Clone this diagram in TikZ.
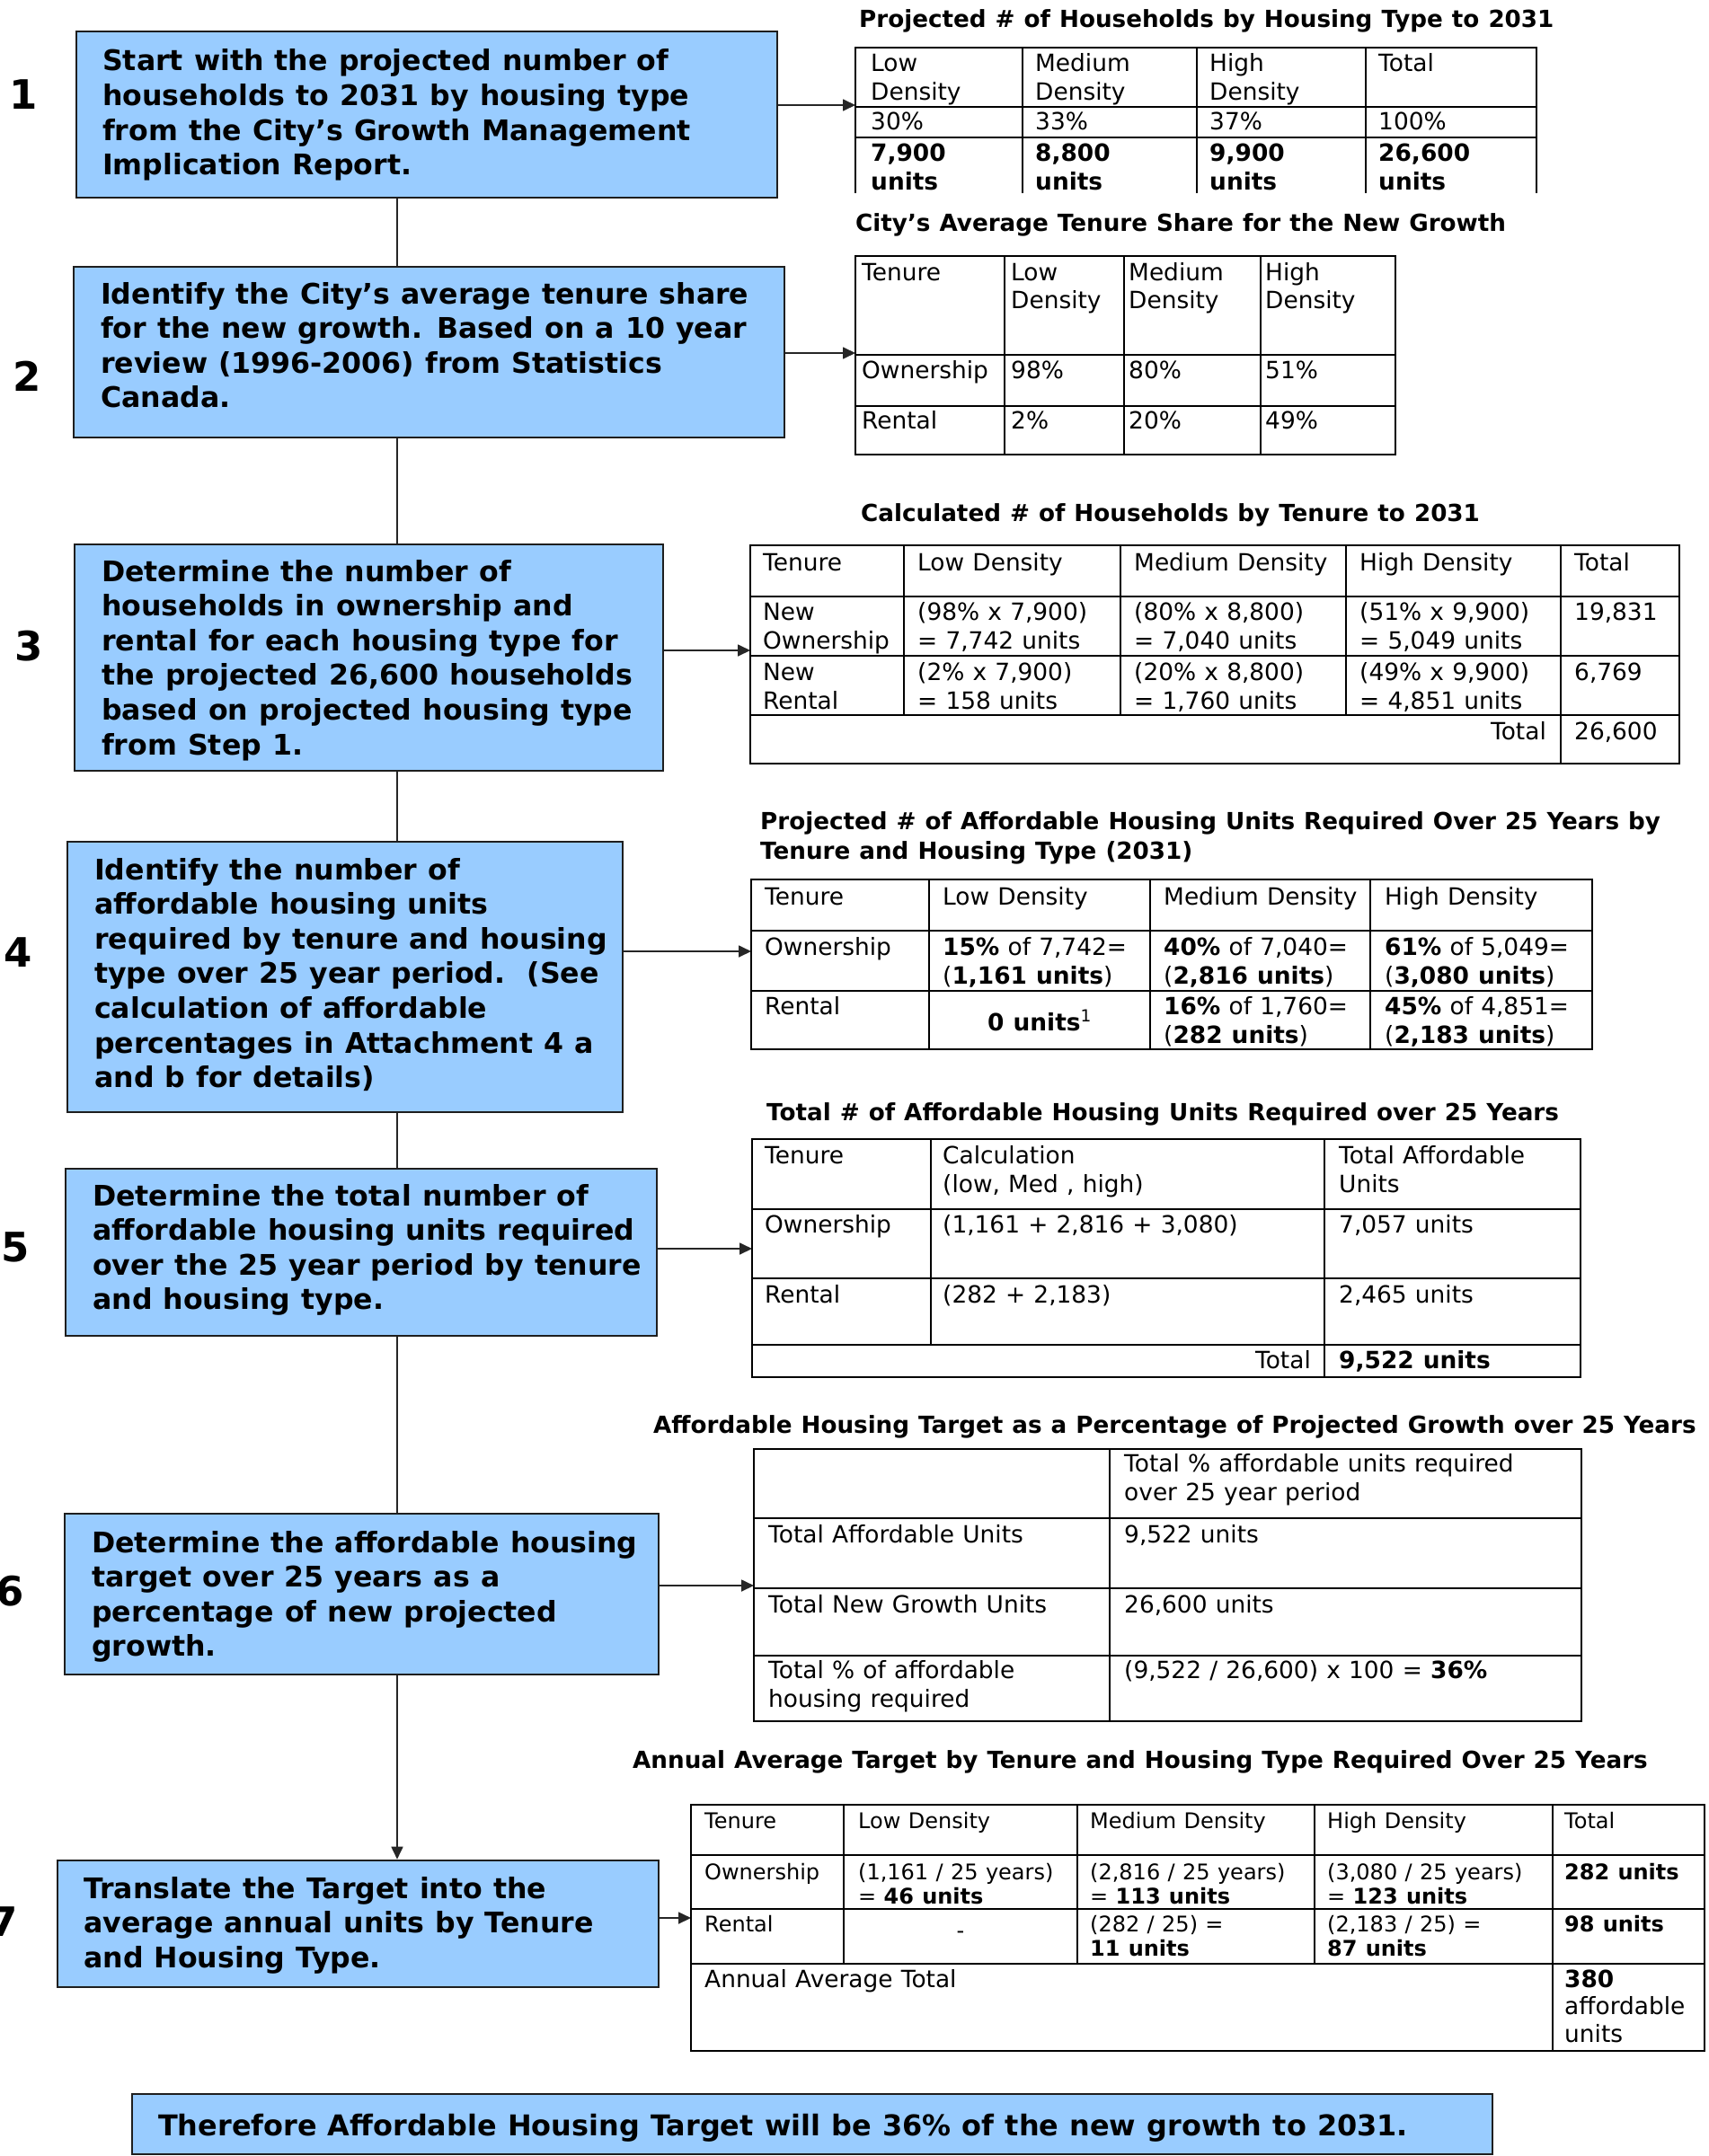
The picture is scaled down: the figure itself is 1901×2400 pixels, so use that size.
\documentclass[tikz,border=0pt]{standalone}
\usepackage{fontspec}
\setmainfont{DejaVu Sans}[WordSpace={1.1,1,1}]
\usetikzlibrary{arrows.meta}
\definecolor{boxblue}{RGB}{153,204,255}
\definecolor{boxline}{RGB}{30,30,30}
\newcommand\boxfont{\fontsize{31.6}{38.6}\selectfont\bfseries}
\newcommand\finalfont{\fontsize{31.9}{38.6}\selectfont\bfseries}
\newcommand\numfont{\fontsize{45}{45}\selectfont\bfseries}
\newcommand\capfont{\fontsize{26.2}{33}\selectfont\bfseries}
\newcommand\cellfont{\fontsize{26.4}{32}\selectfont}
\newcommand\smallcellfont{\fontsize{24}{27}\selectfont}
\newcommand\ml[1]{\vtop{\halign{##\hfil\cr#1\crcr}}}
\begin{document}
\begin{tikzpicture}[x=1pt,y=-1pt,
  stepbox/.style={draw=boxline, fill=boxblue, line width=2.6pt, inner sep=0pt},
  boxtxt/.style={font=\boxfont, anchor=base west, inner sep=0pt},
  stepnum/.style={font=\numfont, anchor=base, inner sep=0pt},
  captxt/.style={font=\capfont, anchor=base west, inner sep=0pt},
  cell/.style={font=\cellfont, anchor=base west, inner sep=0pt},
  scell/.style={font=\smallcellfont, anchor=base west, inner sep=0pt},
  tline/.style={line width=2.2pt, line cap=rect},
  conn/.style={line width=1.7pt, draw=black!85},
  arr/.style={conn, -{Triangle[length=14pt,width=13pt]}}]
\useasboundingbox (0,0) rectangle (1901,2400);
\fill[white] (0,0) rectangle (1901,2400);

% ---------- step boxes ----------
\node[stepbox, minimum width=780pt, minimum height=185pt] (b1) at (475,127.5) {};
\node[stepbox, minimum width=791pt, minimum height=190pt] (b2) at (477.5,392) {};
\node[stepbox, minimum width=655pt, minimum height=252pt] (b3) at (410.5,732) {};
\node[stepbox, minimum width=618pt, minimum height=301pt] (b4) at (384,1087.5) {};
\node[stepbox, minimum width=658pt, minimum height=186pt] (b5) at (402,1394) {};
\node[stepbox, minimum width=661pt, minimum height=179pt] (b6) at (402.5,1774.5) {};
\node[stepbox, minimum width=669pt, minimum height=141pt] (b7) at (398.5,2141.5) {};
\node[stepbox, minimum width=1514pt, minimum height=67pt] (bf) at (904,2364.5) {};

\node[boxtxt] (bt1) at (114,79) {\ml{Start with the projected number of\cr households to 2031 by housing type\cr from the City’s Growth Management\cr Implication Report.}};
\node[boxtxt] (bt2) at (112,338) {\ml{Identify the City’s average tenure share\cr for the new growth. Based on a 10 year\cr review (1996-2006) from Statistics\cr Canada.}};
\node[boxtxt] (bt3) at (113,647) {\ml{Determine the number of\cr households in ownership and\cr rental for each housing type for\cr the projected 26,600 households\cr based on projected housing type\cr from Step 1.}};
\node[boxtxt] (bt4) at (105,979) {\ml{Identify the number of\cr affordable housing units\cr required by tenure and housing\cr type over 25 year period.\ \ (See\cr calculation of affordable\cr percentages in Attachment 4 a\cr and b for details)}};
\node[boxtxt] (bt5) at (103,1342) {\ml{Determine the total number of\cr affordable housing units required\cr over the 25 year period by tenure\cr and housing type.}};
\node[boxtxt] (bt6) at (102,1728) {\ml{Determine the affordable housing\cr target over 25 years as a\cr percentage of new projected\cr growth.}};
\node[boxtxt] (bt7) at (93,2113) {\ml{Translate the Target into the\cr average annual units by Tenure\cr and Housing Type.}};
\node[boxtxt, font=\finalfont] (btf) at (176,2377) {Therefore Affordable Housing Target will be 36\% of the new growth to 2031.};

% ---------- step numbers ----------
\node[stepnum] (n1) at (26,122) {1};
\node[stepnum] (n2) at (30,435) {2};
\node[stepnum] (n3) at (32,735) {3};
\node[stepnum] (n4) at (20,1076) {4};
\node[stepnum] (n5) at (17,1404) {5};
\node[stepnum] (n6) at (11,1787) {6};
\node[stepnum] (n7) at (4,2155) {7};

% ---------- spine connectors ----------
\coordinate (spine) at (442,0);
\draw[conn] (b1.south -| spine) -- (b2.north -| spine);
\draw[conn] (b2.south -| spine) -- (b3.north -| spine);
\draw[conn] (b3.south -| spine) -- (b4.north -| spine);
\draw[conn] (b4.south -| spine) -- (b5.north -| spine);
\draw[conn] (b5.south -| spine) -- (b6.north -| spine);
\draw[arr] (b6.south -| spine) -- (b7.north -| spine);

% ---------- arrows to tables ----------
\coordinate (e1) at (952,117);
\coordinate (e2) at (952,393);
\coordinate (e3) at (835,724);
\coordinate (e4) at (836,1059);
\coordinate (e5) at (837,1390);
\coordinate (e6) at (839,1765);
\coordinate (e7) at (769,2135);
\draw[arr] (b1.east |- e1) -- (e1);
\draw[arr] (b2.east |- e2) -- (e2);
\draw[arr] (b3.east |- e3) -- (e3);
\draw[arr] (b4.east |- e4) -- (e4);
\draw[arr] (b5.east |- e5) -- (e5);
\draw[arr] (b6.east |- e6) -- (e6);
\draw[arr] (b7.east |- e7) -- (e7);

% ---------- Table 1 ----------
\node[captxt] (cap1) at (956,31) {Projected \# of Households by Housing Type to 2031};
\draw[tline] (952,214) -- (952,53) -- (1710,53) -- (1710,214);
\foreach \x in {1138,1332,1520} \draw[tline] (\x,53) -- (\x,214);
\foreach \y in {119,153} \draw[tline] (952,\y) -- (1710,\y);
\node[cell] (t1a) at (969,80) {\ml{Low\cr Density}};
\node[cell] (t1b) at (1152,80) {\ml{Medium\cr Density}};
\node[cell] (t1c) at (1346,80) {\ml{High\cr Density}};
\node[cell] (t1d) at (1534,80) {Total};
\node[cell] (t1e) at (969,145) {30\%};
\node[cell] (t1f) at (1152,145) {33\%};
\node[cell] (t1g) at (1346,145) {37\%};
\node[cell] (t1h) at (1534,145) {100\%};
\node[cell] (t1i) at (969,180) {\bfseries\ml{7,900\cr units}};
\node[cell] (t1j) at (1152,180) {\bfseries\ml{8,800\cr units}};
\node[cell] (t1k) at (1346,180) {\bfseries\ml{9,900\cr units}};
\node[cell] (t1l) at (1534,180) {\bfseries\ml{26,600\cr units}};

% ---------- Table 2 ----------
\node[captxt] (cap2) at (952,258) {City’s Average Tenure Share for the New Growth};
\draw[tline] (952,285) rectangle (1553,506);
\foreach \x in {1118,1251,1403} \draw[tline] (\x,285) -- (\x,506);
\foreach \y in {395,452} \draw[tline] (952,\y) -- (1553,\y);
\node[cell] (t2a) at (959,312) {Tenure};
\node[cell] (t2b) at (1125,312) {\ml{Low\cr Density}};
\node[cell] (t2c) at (1256,312) {\ml{Medium\cr Density}};
\node[cell] (t2d) at (1408,312) {\ml{High\cr Density}};
\node[cell] (t2e) at (959,421) {Ownership};
\node[cell] (t2f) at (1125,421) {98\%};
\node[cell] (t2g) at (1256,421) {80\%};
\node[cell] (t2h) at (1408,421) {51\%};
\node[cell] (t2i) at (959,477) {Rental};
\node[cell] (t2j) at (1125,477) {2\%};
\node[cell] (t2k) at (1256,477) {20\%};
\node[cell] (t2l) at (1408,477) {49\%};

% ---------- Table 3 ----------
\node[captxt] (cap3) at (958,580) {Calculated \# of Households by Tenure to 2031};
\draw[tline] (835,607) rectangle (1869,850);
\foreach \x in {1006,1247,1498} \draw[tline] (\x,607) -- (\x,796);
\draw[tline] (1737,607) -- (1737,850);
\foreach \y in {664,730,796} \draw[tline] (835,\y) -- (1869,\y);
\node[cell] (t3a) at (849,635) {Tenure};
\node[cell] (t3b) at (1021,635) {Low Density};
\node[cell] (t3c) at (1262,635) {Medium Density};
\node[cell] (t3d) at (1513,635) {High Density};
\node[cell] (t3e) at (1752,635) {Total};
\node[cell] (t3f) at (849,690) {\ml{New\cr Ownership}};
\node[cell] (t3g) at (1021,690) {\ml{(98\% x 7,900)\cr = 7,742 units}};
\node[cell] (t3h) at (1262,690) {\ml{(80\% x 8,800)\cr = 7,040 units}};
\node[cell] (t3i) at (1513,690) {\ml{(51\% x 9,900)\cr = 5,049 units}};
\node[cell] (t3j) at (1752,690) {19,831};
\node[cell] (t3k) at (849,757) {\ml{New\cr Rental}};
\node[cell] (t3l) at (1021,757) {\ml{(2\% x 7,900)\cr = 158 units}};
\node[cell] (t3m) at (1262,757) {\ml{(20\% x 8,800)\cr = 1,760 units}};
\node[cell] (t3n) at (1513,757) {\ml{(49\% x 9,900)\cr = 4,851 units}};
\node[cell] (t3o) at (1752,757) {6,769};
\node[cell, anchor=base east] (t3p) at (1721,823) {Total};
\node[cell] (t3q) at (1752,823) {26,600};

% ---------- Table 4 ----------
\node[captxt] (cap4) at (846,923) {\ml{Projected \# of Affordable Housing Units Required Over 25 Years by\cr Tenure and Housing Type (2031)}};
\draw[tline] (836,979) rectangle (1772,1168);
\foreach \x in {1034,1280,1525} \draw[tline] (\x,979) -- (\x,1168);
\foreach \y in {1036,1103} \draw[tline] (836,\y) -- (1772,\y);
\node[cell] (t4a) at (851,1007) {Tenure};
\node[cell] (t4b) at (1049,1007) {Low Density};
\node[cell] (t4c) at (1295,1007) {Medium Density};
\node[cell] (t4d) at (1541,1007) {High Density};
\node[cell] (t4e) at (851,1063) {Ownership};
\node[cell] (t4f) at (1049,1063) {\ml{\textbf{15\%} of 7,742=\cr(\textbf{1,161 units})}};
\node[cell] (t4g) at (1295,1063) {\ml{\textbf{40\%} of 7,040=\cr(\textbf{2,816 units})}};
\node[cell] (t4h) at (1541,1063) {\ml{\textbf{61\%} of 5,049=\cr(\textbf{3,080 units})}};
\node[cell] (t4i) at (851,1129) {Rental};
\node[cell, anchor=base] (t4j) at (1157,1147) {\textbf{0 units}\textsuperscript{1}};
\node[cell] (t4k) at (1295,1129) {\ml{\textbf{16\%} of 1,760=\cr(\textbf{282 units})}};
\node[cell] (t4l) at (1541,1129) {\ml{\textbf{45\%} of 4,851=\cr(\textbf{2,183 units})}};

% ---------- Table 5 ----------
\node[captxt] (cap5) at (853,1247) {Total \# of Affordable Housing Units Required over 25 Years};
\draw[tline] (837,1268) rectangle (1759,1533);
\draw[tline] (1036,1268) -- (1036,1497);
\draw[tline] (1474,1268) -- (1474,1533);
\foreach \y in {1346,1423,1497} \draw[tline] (837,\y) -- (1759,\y);
\node[cell] (t5a) at (851,1295) {Tenure};
\node[cell] (t5b) at (1049,1295) {\ml{Calculation\cr (low, Med , high)}};
\node[cell] (t5c) at (1490,1295) {\ml{Total Affordable\cr Units}};
\node[cell] (t5d) at (851,1372) {Ownership};
\node[cell] (t5e) at (1049,1372) {(1,161 + 2,816 + 3,080)};
\node[cell] (t5f) at (1490,1372) {7,057 units};
\node[cell] (t5g) at (851,1450) {Rental};
\node[cell] (t5h) at (1049,1450) {(282 + 2,183)};
\node[cell] (t5i) at (1490,1450) {2,465 units};
\node[cell, anchor=base east] (t5j) at (1459,1523) {Total};
\node[cell] (t5k) at (1490,1523) {\textbf{9,522 units}};

% ---------- Table 6 ----------
\node[captxt] (cap6) at (727,1595) {Affordable Housing Target as a Percentage of Projected Growth over 25 Years};
\draw[tline] (839,1613) rectangle (1760,1916);
\draw[tline] (1235,1613) -- (1235,1916);
\foreach \y in {1690,1768,1843} \draw[tline] (839,\y) -- (1760,\y);
\node[cell] (t6a) at (1251,1638) {\ml{Total \% affordable units required\cr over 25 year period}};
\node[cell] (t6b) at (855,1717) {Total Affordable Units};
\node[cell] (t6c) at (1251,1717) {9,522 units};
\node[cell] (t6d) at (855,1795) {Total New Growth Units};
\node[cell] (t6e) at (1251,1795) {26,600 units};
\node[cell] (t6f) at (855,1868) {\ml{Total \% of affordable\cr housing required}};
\node[cell] (t6g) at (1251,1868) {(9,522 / 26,600) x 100 = \textbf{36\%}};

% ---------- Table 7 ----------
\node[captxt] (cap7) at (704,1968) {Annual Average Target by Tenure and Housing Type Required Over 25 Years};
\draw[tline] (769,2009) rectangle (1897,2283);
\foreach \x in {939,1199,1463} \draw[tline] (\x,2009) -- (\x,2186);
\draw[tline] (1728,2009) -- (1728,2283);
\foreach \y in {2065,2125,2186} \draw[tline] (769,\y) -- (1897,\y);
\node[scell] (t7a) at (784,2035) {Tenure};
\node[scell] (t7b) at (955,2035) {Low Density};
\node[scell] (t7c) at (1213,2035) {Medium Density};
\node[scell] (t7d) at (1477,2035) {High Density};
\node[scell] (t7e) at (1741,2035) {Total};
\node[scell] (t7f) at (784,2092) {Ownership};
\node[scell] (t7g) at (955,2092) {\ml{(1,161 / 25 years)\cr = \textbf{46 units}}};
\node[scell] (t7h) at (1213,2092) {\ml{(2,816 / 25 years)\cr = \textbf{113 units}}};
\node[scell] (t7i) at (1477,2092) {\ml{(3,080 / 25 years)\cr = \textbf{123 units}}};
\node[scell] (t7j) at (1741,2092) {\textbf{282 units}};
\node[scell] (t7k) at (784,2150) {Rental};
\node[scell, anchor=base] (t7l) at (1069,2157) {-};
\node[scell] (t7m) at (1213,2150) {\ml{(282 / 25) =\cr\textbf{11 units}}};
\node[scell] (t7n) at (1477,2150) {\ml{(2,183 / 25) =\cr\textbf{87 units}}};
\node[scell] (t7o) at (1741,2150) {\textbf{98 units}};
\node[cell] (t7p) at (784,2212) {Annual Average Total};
\node[cell] (t7q) at (1741,2212) {\fontsize{26.4}{30.5}\selectfont\ml{\textbf{380}\cr affordable\cr units}};
\end{tikzpicture}
\end{document}
